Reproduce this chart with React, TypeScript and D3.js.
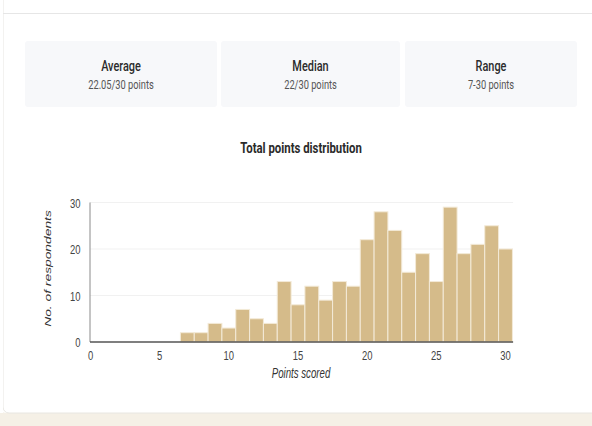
import * as d3 from "d3";
import { useRef, useEffect } from "react";

const points = [7, 8, 9, 10, 11, 12, 13, 14, 15, 16, 17, 18, 19, 20, 21, 22, 23, 24, 25, 26, 27, 28, 29, 30];
const respondents = [2, 2, 4, 3, 7, 5, 4, 13, 8, 12, 9, 13, 12, 22, 28, 24, 15, 19, 13, 29, 19, 21, 25, 20];
const xTicks = [0, 5, 10, 15, 20, 25, 30];
const yTicks = [0, 10, 20, 30];
const statTitles = ["Average", "Median", "Range"];
const statValues = ["22.05/30 points", "22/30 points", "7-30 points"];

const W = 592;
const H = 426;
const SQ = 0.78; // condensed look of the card text
const SQC = 0.7; // chart text squeeze
const FONT = "Roboto, 'Noto Sans', sans-serif";
const CFONT = "'Liberation Sans', Arial, sans-serif";

const App = () => {
    const ref = useRef(null);

    useEffect(() => {
        const svg = d3.select(ref.current);
        svg.selectAll("*").remove();

        // page background + card
        svg.append("rect").attr("width", W).attr("height", H).attr("fill", "#f5f0e6");
        svg.append("rect").attr("x", 0).attr("y", -10).attr("width", W + 10).attr("height", 10 + 413)
           .attr("rx", 6).attr("fill", "#fff");
        svg.append("rect").attr("x", 3).attr("y", -10).attr("width", W + 10).attr("height", 10 + 413)
           .attr("rx", 6).attr("fill", "#fff").attr("stroke", "#e8e6e1").attr("stroke-width", 1);
        svg.append("rect").attr("x", 0).attr("y", -10).attr("width", 3).attr("height", 10 + 413).attr("fill", "#fff");
        svg.append("line").attr("x1", 3).attr("x2", W).attr("y1", 13.5).attr("y2", 13.5)
           .attr("stroke", "#e6e6e6").attr("stroke-width", 1.2);

        const squeezed = (g, x, y, txt, size, weight, fill, opts = {}) => {
            const { anchor = "middle", italic = false, rot = 0, sq = SQ, family = FONT } = opts;
            g.append("text")
             .attr("transform", `translate(${x},${y}) scale(${sq},1) rotate(${rot})`)
             .attr("text-anchor", anchor)
             .attr("font-family", family)
             .attr("font-size", size)
             .attr("font-weight", weight)
             .attr("font-style", italic ? "italic" : "normal")
             .attr("fill", fill)
             .text(txt);
        };

        // stat cards
        const cardX = [25, 221, 405];
        const cardW = [192, 179, 172];
        statTitles.forEach((t, i) => {
            svg.append("rect").attr("x", cardX[i]).attr("y", 41).attr("width", cardW[i]).attr("height", 66)
               .attr("rx", 3).attr("fill", "#f7f8fa");
            const cx = cardX[i] + cardW[i] / 2;
            squeezed(svg, cx, 71, t, 14, 500, "#2b2b2b");
            squeezed(svg, cx, 89, statValues[i], 11.9, 400, "#555");
        });

        squeezed(svg, 301, 153, "Total points distribution", 14.6, 700, "#2b2b2b");

        const x = d3.scaleLinear().domain([0, 30]).range([90.5, 505.5]);
        const y = d3.scaleLinear().domain([0, 30]).range([342, 202.5]);

        // grid
        svg.append("g").selectAll("line").data(yTicks.slice(1)).enter().append("line")
           .attr("x1", 90).attr("x2", x(30.55))
           .attr("y1", d => y(d)).attr("y2", d => y(d))
           .attr("stroke", "#f1f1f1").attr("stroke-width", 1);

        // bars
        svg.append("g").selectAll("rect").data(points).enter().append("rect")
           .attr("x", d => x(d - 0.5))
           .attr("y", (d, i) => y(respondents[i]))
           .attr("width", x(1) - x(0))
           .attr("height", (d, i) => y(0) - y(respondents[i]))
           .attr("fill", "#d5bb8a")
           .attr("stroke", "#f3ead8")
           .attr("stroke-width", 1);

        // axes lines
        svg.append("line").attr("x1", 90).attr("x2", 90).attr("y1", 202.5).attr("y2", 342)
           .attr("stroke", "#8a8a8a").attr("stroke-width", 1);
        svg.append("line").attr("x1", 90).attr("x2", x(30.55)).attr("y1", 342).attr("y2", 342)
           .attr("stroke", "#555").attr("stroke-width", 1.4);

        const tickG = svg.append("g");
        const tk = { sq: SQC, family: CFONT };
        xTicks.forEach(t => squeezed(tickG, x(t), 359.5, String(t), 13.5, 400, "#444", tk));
        yTicks.forEach(t => squeezed(tickG, 80.5, y(t) + 5, String(t), 13.5, 400, "#444", { ...tk, anchor: "end" }));

        squeezed(svg, 301, 377.5, "Points scored", 13.8, 400, "#333", { ...tk, italic: true });
        squeezed(svg, 51, 268.5, "No. of respondents", 13.8, 400, "#333", { ...tk, italic: true, rot: -90 });
    }, []);

    return (
        <>
            <style>{`body{margin:0;}`}</style>
            <svg ref={ref} width={W} height={H} style={{ display: "block" }}></svg>
        </>
    );
};

export default App;
